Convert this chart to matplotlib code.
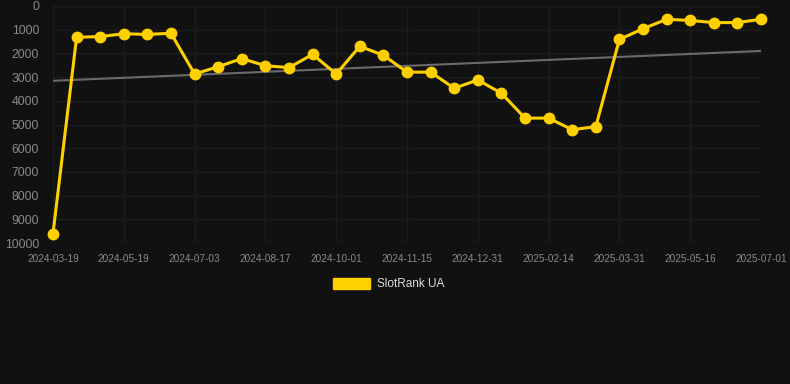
import numpy as np
import matplotlib
matplotlib.use("Agg")
import matplotlib.pyplot as plt
from matplotlib.patches import Patch

plt.rcParams["font.family"] = ["Liberation Sans", "DejaVu Sans"]

# rank values, one point about every two weeks
ranks = [9600, 1320, 1290, 1170, 1200, 1150, 2870, 2560, 2220, 2520, 2600,
         2040, 2870, 1700, 2080, 2790, 2790, 3470, 3120, 3680, 4730, 4730,
         5220, 5090, 1410, 960, 560, 610, 700, 700, 560]
tick_labels = ["2024-03-19", "2024-05-19", "2024-07-03", "2024-08-17",
               "2024-10-01", "2024-11-15", "2024-12-31", "2025-02-14",
               "2025-03-31", "2025-05-16", "2025-07-01"]
series_name = "SlotRank UA"

bg = "#111111"
yellow = "#FFD000"

x = np.arange(len(ranks))
slope, intercept = np.polyfit(x, ranks, 1)
trend = slope * x + intercept

fig = plt.figure(figsize=(7.9, 3.84), dpi=100, facecolor=bg)
ax = fig.add_axes([53 / 790, 1 - 243 / 384, (761 - 53) / 790, (243 - 6) / 384])
ax.set_facecolor(bg)

ax.plot(x, trend, color="#6a6a6a", lw=1.5, zorder=2)
ax.plot(x, ranks, color=yellow, lw=2.2, marker="o", markersize=7.5,
        zorder=3, clip_on=False)

ax.set_xlim(0, len(ranks) - 1)
ax.set_ylim(10000, 0)
ax.set_yticks(range(0, 10001, 1000))
ax.set_xticks(x[::3])
ax.set_xticklabels(tick_labels)

ax.grid(True, color="#1c1c1c", lw=1)
for s in ax.spines.values():
    s.set_visible(False)
ax.axhline(10000, color="#2a2a2a", lw=1, zorder=1)

ax.tick_params(axis="y", colors="#8a8a8a", labelsize=8.8, length=0, pad=10)
ax.tick_params(axis="x", colors="#8a8a8a", labelsize=7.2, length=0, pad=8)

handle = Patch(facecolor=yellow, edgecolor=yellow)
fig.legend([handle], [series_name], loc="center", bbox_to_anchor=(0.492, 0.26),
           frameon=False, fontsize=8.5, labelcolor="#dddddd",
           handlelength=3.2, handleheight=1.0, handletextpad=0.6)

fig.savefig("out.png", dpi=100, facecolor=bg)
